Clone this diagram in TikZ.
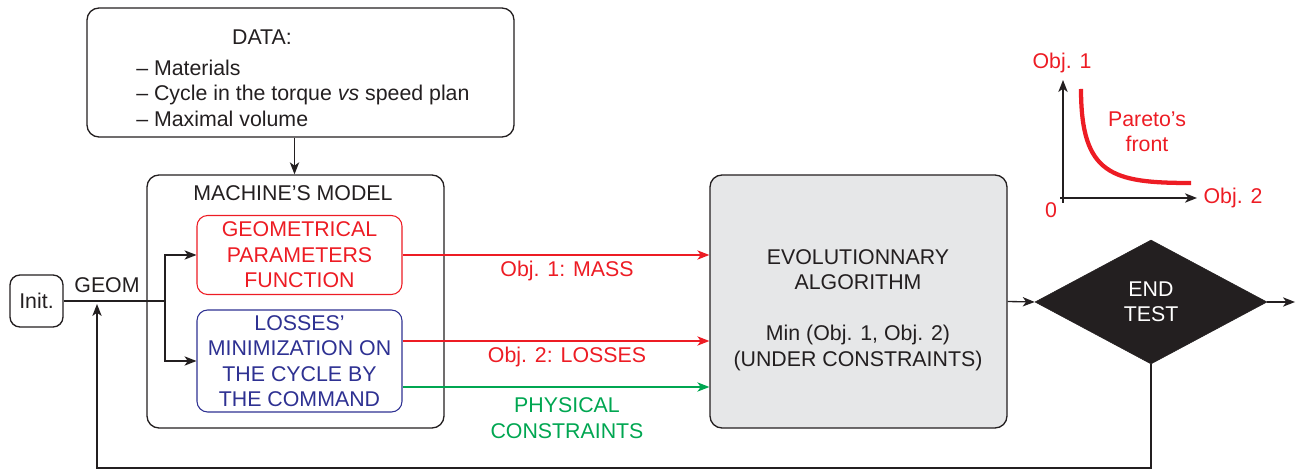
\documentclass[tikz,border=0pt]{standalone}
\usepackage{fontspec}
\setmainfont{Liberation Sans}
\usetikzlibrary{arrows.meta,shapes.geometric,calc}
\definecolor{cred}{HTML}{ED1C24}
\definecolor{cblue}{HTML}{2E3192}
\definecolor{cgreen}{HTML}{00A651}
\definecolor{cgray}{HTML}{E6E7E8}
\definecolor{cblack}{HTML}{231F20}
\begin{document}
\begin{tikzpicture}[x=0.75pt,y=-0.75pt,
  every node/.style={font=\fontsize{16}{19.1}\selectfont, text=cblack},
  box/.style={draw=cblack, line width=1pt, rounded corners=9pt, inner sep=0pt},
  inbox/.style={draw, line width=0.8pt, rounded corners=8pt, inner sep=0pt, align=center,
    minimum width=153.75pt},
  arr/.style={-{Stealth[length=9pt,width=7pt,inset=2.5pt]}},
  line/.style={line width=1pt, draw=cblack},
  lbl/.style={align=center, inner sep=0pt}]
\useasboundingbox (0,0) rectangle (1298,473);

% boxes
\node[box, minimum width=320.25pt, minimum height=96.75pt] (data) at (300.5,72.5) {};
\node[lbl] (datat) at (262,37) {DATA:};
\node[lbl, align=left, anchor=west] (datal) at (136,93) {-- Materials\\-- Cycle in the torque \textit{vs} speed plan\\-- Maximal volume};

\node[box, minimum width=222.75pt, minimum height=189.75pt] (mm) at (295.5,301.5) {};
\node[lbl] (mmt) at (293,193) {MACHINE’S MODEL};

\node[inbox, draw=cred, text=cred, minimum height=59.25pt] (geo) at (299.5,255) {GEOMETRICAL\\PARAMETERS\\FUNCTION};
\node[inbox, draw=cblue, text=cblue, minimum height=76.5pt] (loss) at (299.5,361) {LOSSES’\\MINIMIZATION ON\\THE CYCLE BY\\THE COMMAND};

\node[box, rounded corners=7.5pt, minimum width=39.75pt, minimum height=39pt] (init) at (36.5,301) {Init.};
\node[lbl] (geom) at (107,285) {GEOM};

\node[box, fill=cgray, minimum width=222.75pt, minimum height=189.75pt] (ea) at (858.5,301.5) {};
\node[lbl] (eat) at (858,310) {EVOLUTIONNARY\\ALGORITHM\\[19.1pt]Min (Obj. 1, Obj. 2)\\(UNDER CONSTRAINTS)};

\node[diamond, fill=cblack, draw=cblack, inner sep=0pt, minimum width=174pt, minimum height=93pt, text=white, align=center] (end) at (1151,302) {END\\TEST};

% connectors
\coordinate (j) at (165,301);
\draw[line] (init.east) -- (j);
\draw[line, arr] (j) |- (geo.west);
\draw[line, arr] (j) |- (loss.west);
\draw[line, arr] ([xshift=-4.5pt]data.south) -- ([xshift=-4.5pt]data.south |- mm.north);

\draw[line, draw=cred, line width=0.9pt, arr] (geo.east) -- (geo.east -| ea.west);
\draw[line, draw=cred, line width=0.9pt, arr] ([yshift=15pt]loss.east) -- ([yshift=15pt]loss.east -| ea.west);
\draw[line, draw=cgreen, line width=0.9pt, arr] ([yshift=-19.5pt]loss.east) -- ([yshift=-19.5pt]loss.east -| ea.west);
\node[lbl, text=cred] (l1) at (567,271) {Obj. 1: MASS};
\node[lbl, text=cred] (l2) at (567,357) {Obj. 2: LOSSES};
\node[lbl, text=cgreen] (l3) at (567,418) {PHYSICAL\\CONSTRAINTS};

\draw[line, arr] (ea.east) -- (end.west);
\coordinate (out) at (1295,302);
\draw[line, arr] (end.east) -- (out);
\coordinate (fb) at (97,304);
\coordinate (bot) at (1151,468);
\draw[line, arr] (end.south) -- (bot) -| (fb);

% Pareto inset
\draw[line, arr] (1063,203) -- (1063,80);
\draw[line, arr] (1060,198) -- (1197,198);
\draw[draw=cred, line width=3.2pt] (1081,89) .. controls (1081,175) and (1112,183) .. (1191,183);
\node[lbl, text=cred] (o1) at (1062,63) {Obj. 1};
\node[lbl, text=cred] (o2) at (1233,198) {Obj. 2};
\node[lbl, text=cred] (o0) at (1051,210) {0};
\node[lbl, text=cred] (pf) at (1147,132) {Pareto’s\\front};
\end{tikzpicture}
\end{document}
